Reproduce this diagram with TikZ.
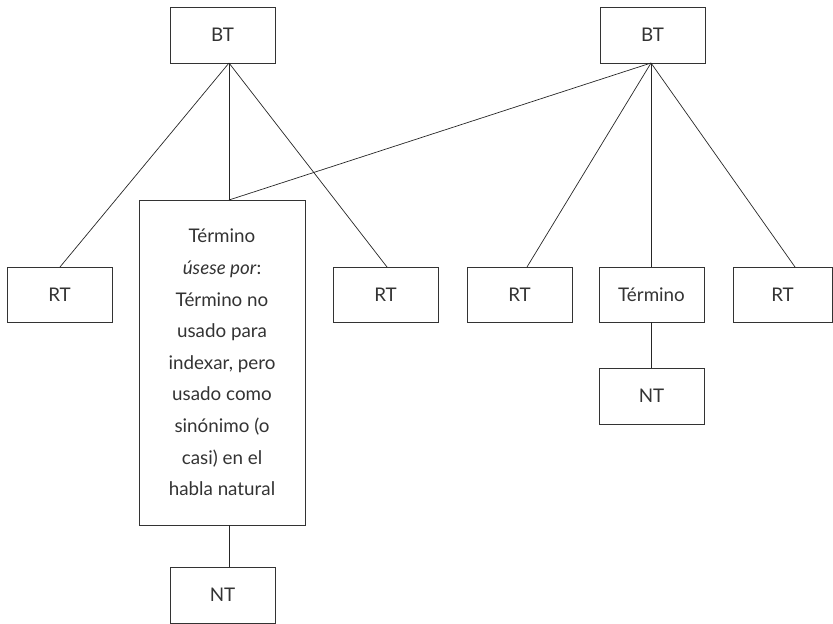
\documentclass[tikz,border=0pt]{standalone}
\usepackage{fontspec}
\setmainfont{Lato}
\begin{document}
\begin{tikzpicture}[x=1pt,y=-1pt,
  box/.style={draw=black!80, line width=0.8pt, inner sep=0pt, minimum width=105pt, minimum height=56pt, font=\fontsize{18.8}{31.6}\selectfont, text=black!80},
  link/.style={draw=black!85, line width=0.7pt}]
\useasboundingbox (0,0) rectangle (833,624);
\node[box] (bt1) at (222.5,35) {BT};
\node[box] (bt2) at (652.5,35) {BT};
\node[box, minimum height=55pt] (rt1) at (59.5,294.5) {RT};
\node[box, minimum width=166pt, minimum height=325pt, align=center] (big) at (222,362.5)
  {Término\\\textit{úsese por}:\\Término no\\usado para\\indexar, pero\\usado como\\sinónimo (o\\casi) en el\\habla natural};
\node[box, minimum height=55pt] (rt2) at (385.5,294.5) {RT};
\node[box, minimum height=55pt] (rt3) at (519.5,294.5) {RT};
\node[box, minimum height=55pt] (term) at (651.5,294.5) {Término};
\node[box, minimum height=55pt, minimum width=99pt] (rt4) at (782.5,294.5) {RT};
\node[box] (nt1) at (222.5,595) {NT};
\node[box] (nt2) at (651.5,396) {NT};
\coordinate (a1) at (229,63);
\coordinate (a2) at (651,63);
\coordinate (bigtop) at (229,200);
\coordinate (bigbot) at (229,525);
\coordinate (nt1top) at (229,567);
\coordinate (rt1top) at (60,267);
\coordinate (rt2top) at (387,267);
\coordinate (rt3top) at (527,267);
\coordinate (termtop) at (651,267);
\coordinate (termbot) at (651,322);
\coordinate (nt2top) at (651,368);
\coordinate (rt4top) at (795,267);
\draw[link] (a1) -- (rt1top);
\draw[link] (a1) -- (bigtop);
\draw[link] (a1) -- (rt2top);
\draw[link] (a2) -- (bigtop);
\draw[link] (a2) -- (rt3top);
\draw[link] (a2) -- (termtop);
\draw[link] (a2) -- (rt4top);
\draw[link] (bigbot) -- (nt1top);
\draw[link] (termbot) -- (nt2top);
\end{tikzpicture}
\end{document}
